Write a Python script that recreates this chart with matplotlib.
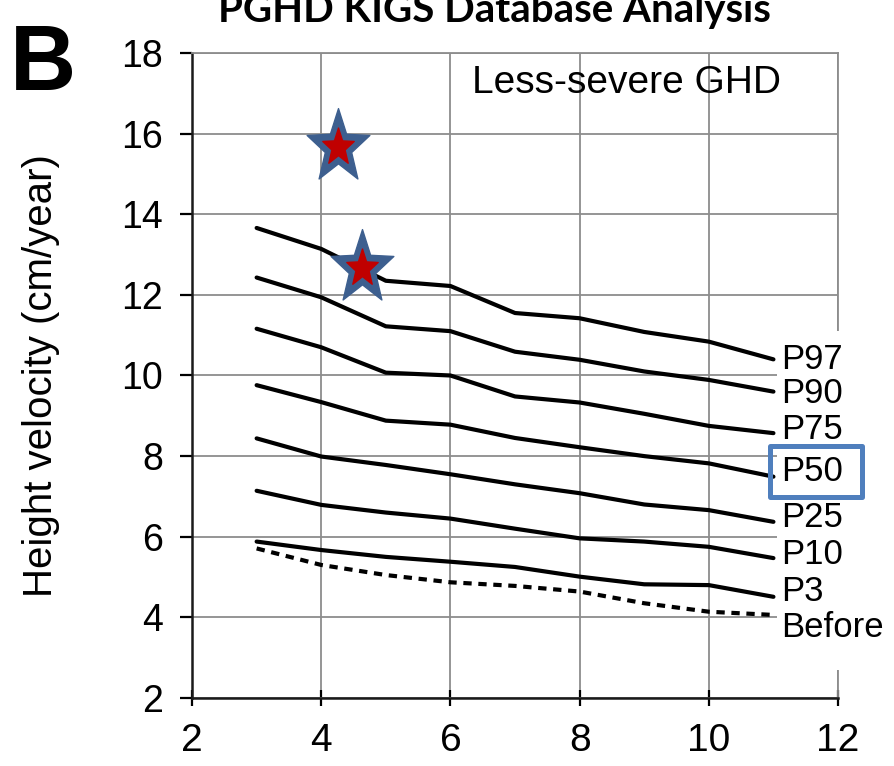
import numpy as np
import matplotlib
matplotlib.use("Agg")
import matplotlib.pyplot as plt
from matplotlib.patches import Rectangle
from matplotlib.path import Path
from matplotlib.transforms import Affine2D

# age (years) and height velocity percentiles (cm/year)
age = [3, 4, 5, 6, 7, 8, 9, 10, 11]
p97 = [13.66, 13.14, 12.35, 12.22, 11.55, 11.42, 11.08, 10.84, 10.40]
p90 = [12.43, 11.94, 11.22, 11.10, 10.59, 10.39, 10.10, 9.89, 9.60]
p75 = [11.16, 10.70, 10.07, 10.00, 9.48, 9.33, 9.05, 8.75, 8.57]
p50 = [9.76, 9.34, 8.88, 8.78, 8.45, 8.22, 8.00, 7.82, 7.49]
p25 = [8.44, 7.99, 7.78, 7.55, 7.30, 7.08, 6.80, 6.66, 6.37]
p10 = [7.14, 6.79, 6.60, 6.45, 6.20, 5.96, 5.88, 5.75, 5.47]
p3 = [5.88, 5.67, 5.50, 5.38, 5.25, 5.01, 4.82, 4.80, 4.51]
before = [5.71, 5.30, 5.05, 4.87, 4.78, 4.64, 4.35, 4.14, 4.06]

curve_names = ["P97", "P90", "P75", "P50", "P25", "P10", "P3", "Before"]
curves = [p97, p90, p75, p50, p25, p10, p3, before]
label_shift = [0.0, -0.05, 0.1, 0.12, 0.1, 0.08, 0.12, -0.3]

# patient measurements (stars)
star_age = [4.26, 4.63]
star_hv = [15.68, 12.66]

xticks = [2, 4, 6, 8, 10, 12]
yticks = [2, 4, 6, 8, 10, 12, 14, 16, 18]

plt.rcParams['font.family'] = ['Liberation Sans', 'DejaVu Sans']

fig = plt.figure(figsize=(8.94, 7.66), dpi=100)
ax = fig.add_axes([0.2148, 0.0888, 0.7226, 0.842])

ax.set_xlim(2, 12)
ax.set_ylim(2, 18)
ax.set_xticks(xticks)
ax.set_yticks(yticks)
ax.grid(True, color='#8c8c8c', linewidth=1.3, zorder=0)
ax.set_axisbelow(True)

for side in ['top', 'right']:
    ax.spines[side].set_color('#8c8c8c')
    ax.spines[side].set_linewidth(1.3)
for side in ['left', 'bottom']:
    ax.spines[side].set_color('#1a1a1a')
    ax.spines[side].set_linewidth(1.8)

ax.tick_params(axis='y', labelsize=27, length=9, width=1.6, pad=12, direction='out')
ax.tick_params(axis='x', labelsize=28, length=12, width=1.6, pad=12, direction='inout')

for name, vals in zip(curve_names, curves):
    ls = (0, (2.0, 1.6)) if name == "Before" else '-'
    ax.plot(age, vals, color='black', linewidth=3.0, linestyle=ls,
            solid_joinstyle='round', solid_capstyle='round', zorder=3)

# white strip behind the curve labels
ax.add_patch(Rectangle((11.05, 2.7), 1.6, 8.4, facecolor='white', edgecolor='none',
                       zorder=2.7, clip_on=False))

for name, vals, dy in zip(curve_names, curves, label_shift):
    ax.text(11.12, vals[-1] + dy, name, fontsize=25, va='center', ha='left',
            zorder=4, clip_on=False)

# box around P50
ax.add_patch(Rectangle((10.95, 6.99), 1.42, 1.26, facecolor='none', edgecolor='#4f7fbd',
                       linewidth=3.6, zorder=5, clip_on=False, joinstyle='round'))

# stars, slightly taller than wide
star = Path.unit_regular_star(5, 0.42)
star = star.transformed(Affine2D().scale(1.0, 1.18))
ax.plot(star_age, star_hv, linestyle='none', marker=star, markersize=56,
        markerfacecolor='#3d5f8f', markeredgecolor='#3d5f8f', zorder=6)
ax.plot(star_age, star_hv, linestyle='none', marker=star, markersize=28,
        markerfacecolor='#c00000', markeredgecolor='#c00000', zorder=7)

ax.text(8.73, 17.26, "Less-severe GHD", fontsize=28, ha='center', va='center')

ax.set_ylabel("Height velocity (cm/year)", fontsize=29)
ax.yaxis.set_label_coords(-0.205, 0.5)

fig.text(0.011, 0.97, "B", fontsize=66, fontweight='bold', va='top', ha='left')
fig.text(0.553, 1 - 22 / 766, "PGHD KIGS Database Analysis", fontsize=29,
         fontweight='bold', ha='center', va='baseline', family=['Lato', 'DejaVu Sans'])

fig.savefig('out.png', dpi=100)
